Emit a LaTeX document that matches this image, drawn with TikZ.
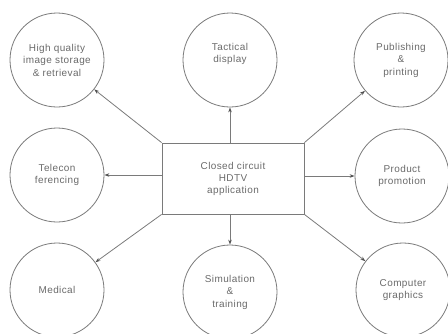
\documentclass[tikz,border=0pt]{standalone}
\usepackage{fontspec}
\setmainfont{Liberation Sans}[LetterSpace=4]
\usetikzlibrary{arrows.meta}
\definecolor{ln}{HTML}{7A7A7A}
\definecolor{tx}{HTML}{6A6A6A}
\definecolor{ah}{HTML}{505050}
\tikzset{
  circ/.style={circle, draw=ln, line width=0.8bp, minimum size=94bp, inner sep=0pt,
    align=center, text=tx, font=\fontsize{10}{12.5}\selectfont},
  boxst/.style={rectangle, draw=ln, line width=0.8bp, minimum width=142bp, minimum height=71bp,
    inner sep=0pt, align=center, text=tx, font=\fontsize{10}{12}\selectfont},
  conn/.style={draw=ln, line width=0.8bp, -{Stealth[length=5bp,width=3.5bp,color=ah]}}
}
\begin{document}
\begin{tikzpicture}[x=1bp,y=-1bp]
\useasboundingbox (0,0) rectangle (448,333);
\node[circ] (hq) at (57,60) {High quality\\image storage\\\& retrieval};
\node[circ] (tac) at (230,60) {Tactical\\display\\[2bp]};
\node[circ] (pub) at (401,60) {Publishing\\\&\\printing};
\node[circ] (tel) at (57,175) {Telecon\\ferencing};
\node[circ] (prod) at (402,176) {Product\\promotion};
\node[circ] (med) at (57,290) {Medical};
\node[circ] (sim) at (230,292) {Simulation\\\&\\training};
\node[circ] (comp) at (403,290) {Computer\\graphics};
\node[boxst] (box) at (233,178.5) {Closed circuit\\HDTV\\application};
\draw[conn] (box.north west) -- (hq);
\draw[conn] (box.north -| tac.south) -- (tac.south);
\draw[conn] (box.north east) -- (pub);
\draw[conn] (box.west |- tel.east) -- (tel.east);
\draw[conn] (box.east |- prod.west) -- (prod.west);
\draw[conn] (box.south west) -- (med);
\draw[conn] (box.south -| sim.north) -- (sim.north);
\draw[conn] (box.south east) -- (comp);
\end{tikzpicture}
\end{document}
